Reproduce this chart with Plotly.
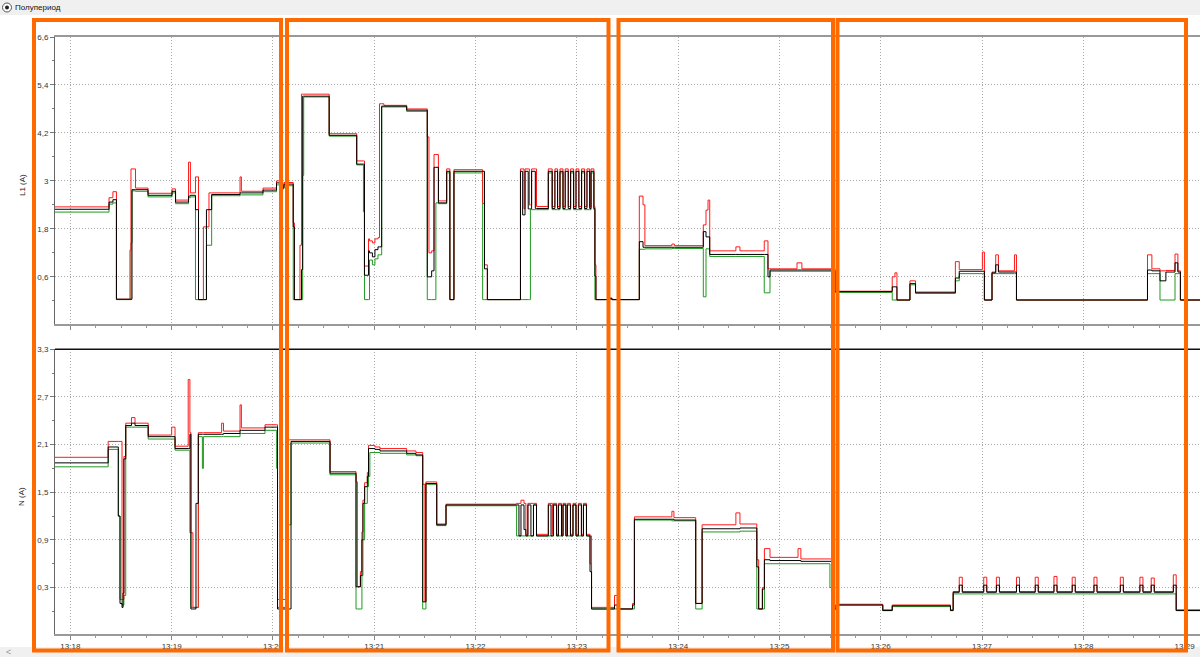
import pandas as pd
import plotly.graph_objects as go
from plotly.subplots import make_subplots

BASE = pd.Timestamp("2024-01-01 13:18:00")

# ---------------- L1 (A) : seconds after 13:18:00 and values ----------------
l1_sec = [-9.1, 22.9, 25.2, 27.3, 35.3, 35.9, 36.5, 38.6, 46.0, 60.2, 62.3, 70.0, 71.1, 74.1, 75.9,
          78.8, 80.6, 82.1, 83.7, 100.5, 101.3, 114.1, 122.1, 124.1, 126.5, 132.0, 132.7, 136.0,
          136.9, 137.6, 138.2, 153.3, 169.6, 173.6, 174.2, 176.6, 177.2, 178.9, 180.4, 182.2, 183.1,
          184.4, 185.7, 199.2, 211.4, 212.4, 214.0, 215.4, 216.5, 218.0, 222.9, 224.8, 227.2, 244.2,
          245.3, 247.0, 266.6, 267.9, 268.7, 269.3, 271.2, 271.9, 272.5, 273.2, 275.4, 276.1, 283.1,
          285.4, 287.0, 288.6, 290.0, 291.8, 293.1, 294.9, 296.3, 298.1, 299.5, 301.2, 302.8, 304.6,
          306.0, 307.6, 308.4, 310.1, 310.7, 311.3, 318.4, 320.8, 337.0, 339.2, 340.3, 356.3, 357.8,
          374.9, 376.5, 377.7, 378.7, 394.2, 396.6, 411.0, 413.2, 414.4, 430.4, 433.3, 452.9, 486.8,
          488.4, 489.6, 497.3, 500.6, 524.2, 526.5, 540.2, 541.4, 545.9, 548.1, 549.7, 559.2, 560.4,
          638.0, 640.6, 645.4, 648.9, 654.3, 656.0, 657.5, 669.1]
l1_black = [2.29, 2.47, 2.53, 0.04, 0.04, 0.04, 2.78, 2.78, 2.64, 2.74, 2.47, 2.62, 2.64, 2.28, 0.03,
            0.03, 2.28, 2.28, 2.66, 2.70, 2.70, 2.77, 2.95, 2.82, 2.92, 1.85, 0.03, 0.03,
            0.78, 5.12, 5.12, 4.14, 3.42, 3.42, 0.64, 1.25, 1.20, 1.10, 1.28, 1.35, 1.35,
            4.87, 4.87, 4.77, 0.60, 0.60, 0.75, 3.34, 3.34, 2.45, 3.24, 0.03, 3.24, 3.24,
            0.80, 0.03, 3.24, 2.15, 2.15, 3.24, 2.30, 2.30, 2.30, 3.24, 2.31, 2.31, 3.24,
            2.31, 3.24, 2.31, 3.24, 2.31, 3.24, 2.31, 3.24, 2.31, 3.24, 2.31, 3.24, 2.31,
            3.24, 2.31, 3.24, 2.31, 0.62, 0.03, 0.06, 0.03, 1.48, 1.34, 1.34, 1.34, 1.34,
            1.73, 1.60, 1.60, 1.16, 1.16, 1.16, 1.16, 0.60, 0.77, 0.77, 0.77, 0.23, 0.35,
            0.35, 0.02, 0.43, 0.20, 0.57, 0.74, 0.74, 0.02, 0.70, 0.90, 0.72, 0.72, 0.02,
            0.77, 0.75, 0.50, 0.72, 0.95, 0.72, 0.02, 0.02]
l1_red = [2.35, 2.58, 2.73, 0.04, 1.27, 3.30, 3.30, 2.82, 2.69, 2.80, 2.52, 3.47, 2.70, 3.10, 0.03,
          1.85, 1.85, 2.70, 2.70, 3.10, 2.74, 2.82, 3.00, 2.86, 2.96, 1.95, 0.03, 1.39,
          5.17, 5.17, 5.17, 4.18, 3.50, 3.50, 0.87, 1.55, 1.50, 1.45, 1.55, 1.58, 4.93,
          4.93, 4.89, 4.80, 4.10, 1.20, 1.25, 3.66, 3.66, 2.50, 3.30, 0.03, 3.28, 2.43,
          0.90, 0.03, 3.30, 3.30, 2.30, 3.30, 3.30, 2.40, 2.40, 3.30, 3.30, 2.36, 3.30,
          2.36, 3.30, 2.36, 3.30, 2.36, 3.30, 2.36, 3.30, 2.36, 3.30, 2.36, 3.30, 2.36,
          3.30, 2.36, 3.30, 2.36, 0.90, 0.03, 0.07, 0.03, 2.62, 2.40, 1.38, 1.42, 1.38,
          1.90, 2.27, 2.52, 1.25, 1.35, 1.25, 1.50, 0.80, 0.80, 0.95, 0.80, 0.24, 0.60,
          0.70, 0.02, 0.50, 0.22, 0.98, 0.78, 1.22, 0.02, 0.72, 1.15, 0.75, 1.15, 0.02,
          1.15, 0.80, 0.75, 0.76, 1.17, 0.75, 0.02, 0.02]
l1_green = [2.22, 2.42, 2.45, 0.03, 0.03, 1.45, 2.75, 2.74, 2.60, 2.70, 2.43, 2.58, 2.60, 0.03, 0.03,
            0.03, 1.39, 1.39, 2.63, 2.65, 2.65, 2.73, 2.90, 2.80, 2.88, 0.03, 0.03, 0.03,
            0.03, 3.14, 5.10, 4.12, 3.40, 2.23, 0.03, 0.03, 1.02, 0.90, 1.05, 1.15, 1.15,
            4.85, 4.85, 4.74, 0.03, 0.03, 0.03, 0.03, 2.45, 2.43, 3.20, 0.03, 3.20, 0.03,
            0.03, 0.03, 0.03, 0.03, 0.03, 0.03, 0.03, 0.03, 2.28, 2.28, 2.28, 2.28, 3.20,
            2.28, 2.28, 2.28, 3.20, 2.28, 2.28, 2.28, 3.20, 2.28, 2.28, 2.28, 3.20, 2.28,
            2.28, 2.28, 3.20, 2.28, 0.03, 0.03, 0.04, 0.03, 1.29, 1.29, 1.30, 1.31, 1.31,
            0.10, 1.30, 1.30, 1.11, 1.11, 1.11, 0.20, 0.20, 0.74, 0.74, 0.74, 0.21, 0.02,
            0.02, 0.02, 0.40, 0.19, 0.50, 0.68, 0.68, 0.02, 0.68, 0.68, 0.68, 0.68, 0.02,
            0.68, 0.68, 0.02, 0.02, 0.68, 0.68, 0.02, 0.02]

# ---------------- N (A) : seconds after 13:18:00 and values ----------------
n_sec = [-9.1, 22.4, 28.4, 29.4, 30.6, 31.2, 31.7, 32.8, 36.2, 38.3, 46.1, 60.0, 62.0, 69.8, 70.8,
         71.4, 72.6, 74.4, 75.8, 78.2, 78.8, 89.6, 90.7, 100.5, 101.3, 115.3, 122.2, 122.7, 129.2,
         129.7, 130.7, 153.8, 169.2, 170.0, 171.8, 172.7, 173.3, 174.3, 175.9, 176.6, 177.4, 180.4,
         183.4, 199.2, 204.7, 208.7, 210.0, 210.6, 217.0, 222.5, 264.3, 265.7, 266.9, 268.7, 269.8,
         271.0, 272.8, 274.3, 276.1, 283.1, 284.7, 285.5, 286.1, 288.0, 289.1, 290.9, 291.8, 293.5,
         294.4, 296.2, 297.7, 299.5, 300.9, 302.7, 303.9, 305.7, 307.8, 308.7, 322.3, 324.0, 333.0,
         334.1, 356.3, 357.5, 370.4, 374.2, 394.2, 396.6, 406.6, 407.7, 409.9, 411.1, 414.4, 431.0,
         432.7, 449.9, 451.1, 453.5, 481.2, 486.8, 521.3, 522.9, 526.5, 528.3, 541.0, 542.8, 548.5,
         550.3, 560.4, 562.2, 571.5, 573.3, 582.6, 584.4, 593.4, 595.2, 606.3, 608.1, 621.9, 623.7,
         633.5, 635.3, 640.2, 642.0, 653.3, 655.0, 669.1]
n_black = [1.87, 2.07, 1.20, 0.10, 0.05, 0.23, 1.92, 2.34, 2.37, 2.34, 2.20, 2.20, 2.05, 2.05, 2.23,
           0.03, 0.03, 1.36, 2.23, 2.23, 2.23, 2.23, 2.24, 2.28, 2.28, 2.32, 2.32, 0.03, 0.03,
           0.03, 2.14, 1.74, 0.31, 0.31, 0.45, 0.90, 1.36, 1.57, 1.70, 2.05, 2.05, 2.04,
           2.02, 1.99, 1.97, 0.12, 0.12, 1.61, 1.09, 1.34, 1.34, 0.95, 1.34, 1.03, 0.95,
           1.34, 0.95, 1.34, 0.95, 1.34, 0.95, 0.95, 1.34, 0.95, 1.34, 0.95, 1.34, 0.95,
           1.34, 0.95, 1.34, 0.95, 1.34, 0.95, 1.34, 0.95, 0.50, 0.03, 0.08, 0.03, 0.08,
           1.16, 1.16, 1.15, 0.10, 1.04, 1.04, 1.05, 0.56, 0.03, 0.28, 0.65, 0.64, 0.64,
           0.63, 0.63, 0.03, 0.08, 0.01, 0.07, 0.01, 0.24, 0.33, 0.24, 0.33, 0.24, 0.33,
           0.24, 0.33, 0.24, 0.33, 0.24, 0.33, 0.24, 0.33, 0.24, 0.33, 0.24, 0.33, 0.24,
           0.33, 0.24, 0.33, 0.24, 0.33, 0.01, 0.01]
n_red = [1.94, 2.14, 2.14, 2.14, 0.15, 0.15, 1.95, 2.37, 2.44, 2.37, 2.22, 2.32, 2.08, 2.92, 2.25,
         0.99, 0.05, 0.05, 2.25, 2.25, 2.25, 2.37, 2.27, 2.60, 2.31, 2.35, 2.35, 0.05, 2.16,
         2.16, 2.16, 1.76, 1.63, 0.31, 0.50, 1.00, 1.40, 1.62, 1.75, 2.09, 2.09, 2.07,
         2.05, 2.02, 2.00, 1.60, 0.12, 1.63, 1.10, 1.35, 1.36, 1.36, 1.40, 1.36, 0.97,
         1.36, 1.36, 1.36, 0.97, 1.36, 1.36, 0.97, 1.36, 0.97, 1.36, 0.97, 1.36, 0.97,
         1.36, 0.97, 1.36, 0.97, 1.36, 0.97, 1.36, 0.97, 0.60, 0.05, 0.20, 0.03, 0.10,
         1.19, 1.26, 1.18, 0.10, 1.09, 1.24, 1.10, 0.65, 0.03, 0.30, 0.79, 0.68, 0.79,
         0.66, 0.66, 0.03, 0.09, 0.02, 0.08, 0.02, 0.25, 0.43, 0.25, 0.43, 0.25, 0.43,
         0.25, 0.43, 0.25, 0.43, 0.25, 0.44, 0.25, 0.43, 0.25, 0.43, 0.25, 0.43, 0.25,
         0.43, 0.25, 0.42, 0.25, 0.46, 0.02, 0.02]
n_green = [1.82, 2.04, 1.20, 0.15, 0.08, 0.08, 0.20, 2.32, 2.32, 2.32, 2.17, 2.17, 2.03, 2.03, 0.99,
           0.05, 0.05, 0.05, 2.20, 1.80, 2.20, 2.20, 2.20, 2.24, 2.24, 2.28, 1.80, 0.15, 1.09,
           1.09, 2.12, 1.72, 0.03, 0.03, 0.03, 0.45, 0.90, 1.36, 1.57, 1.70, 2.00, 2.00,
           1.99, 1.97, 1.96, 0.03, 0.03, 1.60, 1.08, 1.33, 0.95, 0.95, 0.95, 0.95, 0.95,
           0.95, 0.95, 1.34, 0.95, 0.95, 0.95, 0.95, 1.34, 0.95, 0.95, 0.95, 1.34, 0.95,
           0.95, 0.95, 1.34, 0.95, 0.95, 0.95, 1.34, 0.95, 0.95, 0.03, 0.03, 0.03, 0.03,
           1.15, 1.14, 1.14, 0.03, 1.00, 1.00, 1.01, 0.03, 0.03, 0.03, 0.60, 0.60, 0.60,
           0.60, 0.30, 0.03, 0.08, 0.01, 0.06, 0.01, 0.22, 0.22, 0.22, 0.22, 0.22, 0.22,
           0.22, 0.22, 0.22, 0.22, 0.22, 0.22, 0.22, 0.22, 0.22, 0.22, 0.22, 0.22, 0.22,
           0.22, 0.22, 0.22, 0.22, 0.22, 0.01, 0.01]

# ---------------- axes ----------------
x_start_sec, x_end_sec = -9.1, 669.1
l1_ticks = [0.6, 1.8, 3.0, 4.2, 5.4, 6.6]
l1_minor = [0.0, 1.2, 2.4, 3.6, 4.8, 6.0]
n_ticks = [0.3, 0.9, 1.5, 2.1, 2.7, 3.3]
n_minor = [0.0, 0.6, 1.2, 1.8, 2.4, 3.0]
l1_range = [-0.58, 6.6]
n_range = [-0.285, 3.3]
title_l1 = "L1 (A)"
title_n = "N (A)"
radio_label = "Полупериод"

def to_time(secs):
    return [BASE + pd.Timedelta(seconds=s) for s in secs]

W, H = 1200, 657
ML, MR, MT, MB = 55, 0, 37, 23
PW, PH = W - ML - MR, H - MT - MB

def px(x):
    return (x - ML) / PW

def py(y):
    return (H - MB - y) / PH

fig = make_subplots(rows=2, cols=1, shared_xaxes=False, vertical_spacing=0.0)

colors = {"red": "#ff1a1a", "green": "#1e9a1e", "black": "#000000"}
for row, secs, series in [
    (1, l1_sec, [("green", l1_green), ("red", l1_red), ("black", l1_black)]),
    (2, n_sec, [("green", n_green), ("red", n_red), ("black", n_black)]),
]:
    t = to_time(secs)
    for name, vals in series:
        fig.add_trace(go.Scatter(x=t, y=vals, mode="lines", line_shape="hv",
                                 line=dict(color=colors[name], width=1),
                                 showlegend=False, hoverinfo="skip"), row=row, col=1)

xr = [BASE + pd.Timedelta(seconds=x_start_sec), BASE + pd.Timedelta(seconds=x_end_sec)]
tickfont = dict(family="Liberation Sans, Arial", size=8, color="#333333")
GRID = dict(showgrid=True, gridcolor="#a8a8a8", griddash="1px,2px", gridwidth=1)
xcommon = dict(type="date", range=xr, tick0=BASE, dtick=60000, tickformat="%H:%M",
               ticks="outside", ticklen=4, tickcolor="#888888",
               minor=dict(dtick=15000, ticks="outside", ticklen=2, tickcolor="#999999", showgrid=False),
               showline=True, linecolor="#999999", linewidth=1.5, zeroline=False,
               tickfont=tickfont, **GRID)
fig.update_xaxes(**xcommon)
fig.update_xaxes(showticklabels=False, mirror=True, row=1, col=1)
fig.update_xaxes(showticklabels=True, row=2, col=1)

ycommon = dict(ticks="outside", ticklen=4, tickcolor="#777777",
               showline=True, linecolor="#666666", linewidth=1, zeroline=False,
               tickfont=tickfont, **GRID)
fig.update_yaxes(**ycommon)
fig.update_yaxes(range=l1_range, tickvals=l1_ticks,
                 minor=dict(tickvals=l1_minor, ticks="outside", ticklen=2, tickcolor="#777777", showgrid=False),
                 row=1, col=1)
fig.update_yaxes(range=n_range, tickvals=n_ticks,
                 minor=dict(tickvals=n_minor, ticks="outside", ticklen=2, tickcolor="#777777", showgrid=False),
                 row=2, col=1)

top_dom = [py(324), 1.0]
bot_dom = [0.0, py(349.3)]
fig.update_layout(yaxis=dict(domain=top_dom), yaxis2=dict(domain=bot_dom))

shapes = []
# top gray band and bottom scroll strip
shapes.append(dict(type="rect", xref="paper", yref="paper", x0=px(0), x1=px(W), y0=py(15), y1=py(0),
                   fillcolor="#f0f0f0", line=dict(width=0), layer="below"))
shapes.append(dict(type="rect", xref="paper", yref="paper", x0=px(0), x1=px(W), y0=py(H), y1=py(647),
                   fillcolor="#f0f0f0", line=dict(width=0), layer="below"))
# black top border of the lower panel
shapes.append(dict(type="line", xref="paper", yref="paper", x0=0, x1=1, y0=bot_dom[1], y1=bot_dom[1],
                   line=dict(color="#111111", width=1.5)))
# radio button
shapes.append(dict(type="circle", xref="paper", yref="paper", x0=px(2.5), x1=px(11.5), y0=py(12), y1=py(3),
                   line=dict(color="#555555", width=1), fillcolor="#ffffff"))
shapes.append(dict(type="circle", xref="paper", yref="paper", x0=px(5), x1=px(9), y0=py(9.5), y1=py(5.5),
                   line=dict(color="#222222", width=0), fillcolor="#222222"))
# orange highlight boxes
boxes_px = [(34, 281), (287, 608.5), (618.5, 833), (837.5, 1186)]
for x0, x1 in boxes_px:
    shapes.append(dict(type="rect", xref="paper", yref="paper", x0=px(x0), x1=px(x1),
                       y0=py(650.5), y1=py(20), line=dict(color="#ff6a00", width=4),
                       fillcolor="rgba(0,0,0,0)", layer="above"))

annotations = [
    dict(text=radio_label, xref="paper", yref="paper", x=px(13), y=py(7.5), xanchor="left", yanchor="middle",
         showarrow=False, font=dict(family="Liberation Sans, Arial", size=8, color="#111111")),
    dict(text=title_l1, xref="paper", yref="paper", x=px(22), y=py(185), textangle=-90,
         xanchor="center", yanchor="middle", showarrow=False,
         font=dict(family="Liberation Sans, Arial", size=8, color="#222222")),
    dict(text=title_n, xref="paper", yref="paper", x=px(22), y=py(497), textangle=-90,
         xanchor="center", yanchor="middle", showarrow=False,
         font=dict(family="Liberation Sans, Arial", size=8, color="#222222")),
    dict(text="<", xref="paper", yref="paper", x=px(8), y=py(652), xanchor="center", yanchor="middle",
         showarrow=False, font=dict(family="Liberation Sans, Arial", size=9, color="#999999")),
]

fig.update_layout(width=W, height=H, margin=dict(l=ML, r=MR, t=MT, b=MB),
                  paper_bgcolor="#ffffff", plot_bgcolor="#ffffff", separators=", ",
                  shapes=shapes, annotations=annotations, showlegend=False)

fig.write_html("out.html", config={"displayModeBar": False},
               post_script="document.body.style.margin='0';")
